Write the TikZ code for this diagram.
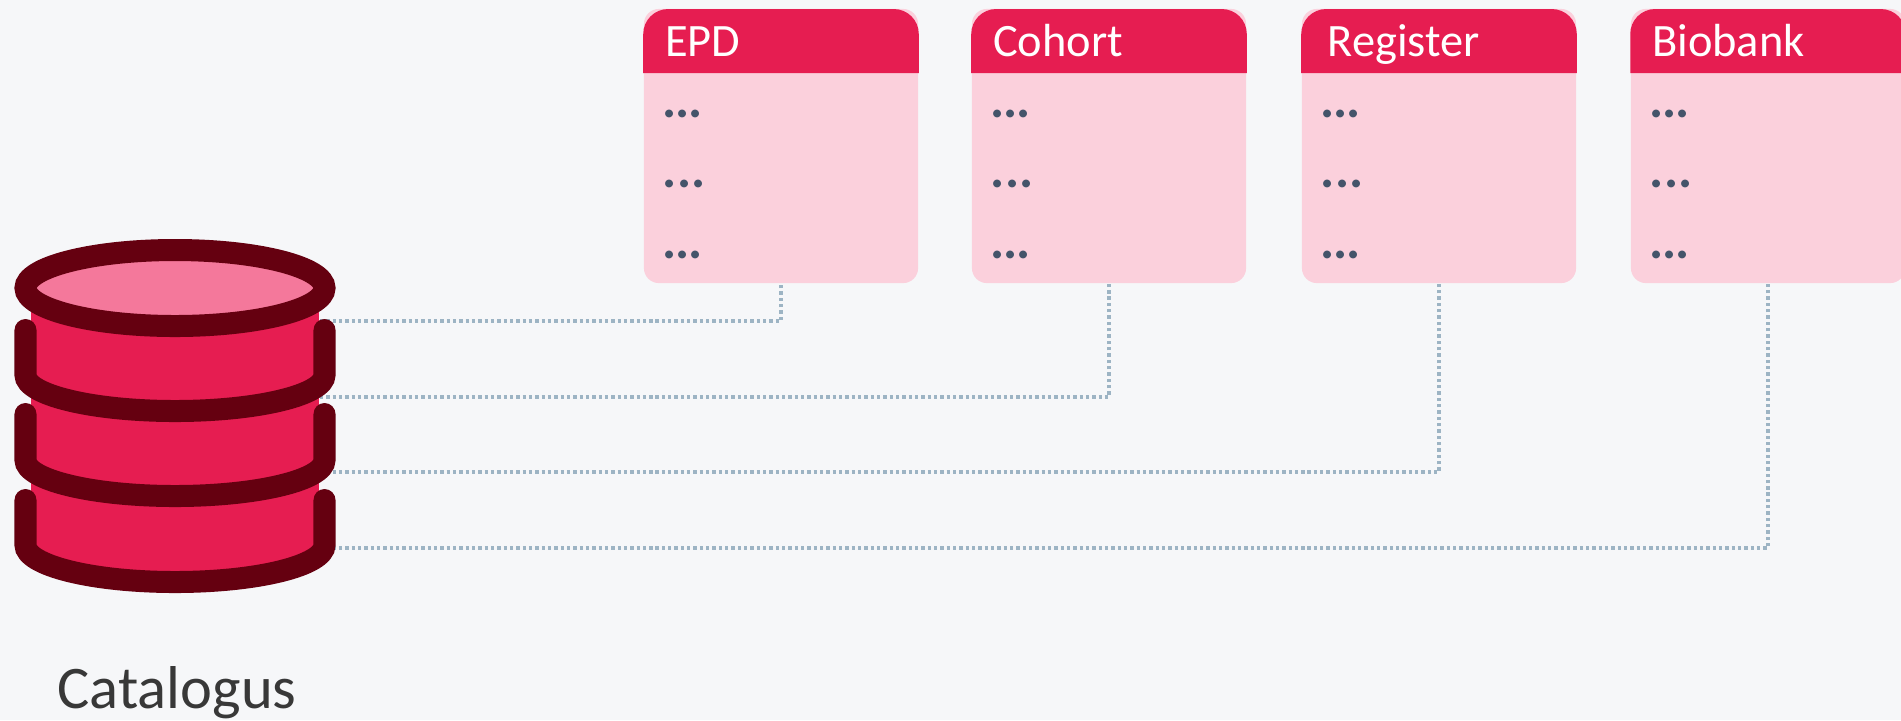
\documentclass[tikz,border=0pt]{standalone}
\usepackage{fontspec}
\setmainfont{Carlito}
\definecolor{pagebg}{HTML}{F6F7F9}
\definecolor{crimson}{HTML}{E61D51}
\definecolor{palepink}{HTML}{FBD0DC}
\definecolor{lidpink}{HTML}{F4789B}
\definecolor{darkred}{HTML}{650010}
\definecolor{slate}{HTML}{44546A}
\definecolor{linkblue}{HTML}{9DB4C4}
\newcommand{\rowdots}[1]{.\kern#1.\kern#1.}
\tikzset{
	cardbody/.style={fill=palepink, rounded corners=0.15cm, minimum width=2.74cm, minimum height=2.74cm, inner sep=0pt},
	cardtitle/.style={white, anchor=base west, inner sep=0pt, font=\fontsize{13.2}{13.2}\selectfont},
	carddots/.style={slate, anchor=base west, inner sep=0pt, font=\fontsize{15}{15}\selectfont\bfseries},
	link/.style={draw=linkblue, line width=0.95pt, dash pattern=on 0.95pt off 0.85pt},
	rim/.style={draw=darkred, line width=0.22cm, line cap=round},
}
\begin{document}
\begin{tikzpicture}[x=0.01cm, y=-0.01cm]
	\useasboundingbox[fill=pagebg] (0,0) rectangle (1901,720);
	% cards
	\foreach \name/\title/\cx/\tx in {epd/EPD/781/-116.5, cohort/Cohort/1109/-116.5, register/Register/1439/-112, biobank/Biobank/1768/-116.5} {
		\node[cardbody] (\name) at (\cx,146) {};
		\fill[crimson] (\name.west |- 0,73) [rounded corners=0.25cm] -- (\name.west |- 0,9) -- (\name.east |- 0,9) [sharp corners] -- (\name.east |- 0,73) -- cycle;
		\node[cardtitle] (\name title) at (\cx+\tx,56) {\title};
		\node[carddots] (\name dots1) at (\cx-119,117) {\rowdots{-0.4pt}};
		\node[carddots] (\name dots2) at (\cx-119,187.5) {\rowdots{0.1pt}};
		\node[carddots] (\name dots3) at (\cx-119,258) {\rowdots{-0.4pt}};
	}
	% links
	\coordinate (tier1) at (320,321);
	\coordinate (tier2) at (320,397);
	\coordinate (tier3) at (320,472);
	\coordinate (tier4) at (320,548);
	\draw[link] (tier1) -| (epd.south);
	\draw[link] (tier2) -| (cohort.south);
	\draw[link] (tier3) -| (register.south);
	\draw[link] (tier4) -| (biobank.south);
	% database
	\fill[crimson] (31,288) rectangle (319,560);
	\fill[crimson] (175,560) ellipse (144 and 25);
	\draw[rim] (25.5,500) -- (25.5,545) arc[start angle=180, end angle=360, x radius=149.5, y radius=-37] -- (324.5,500);
	\draw[rim] (25.5,414) -- (25.5,460) arc[start angle=180, end angle=360, x radius=149.5, y radius=-36] -- (324.5,414);
	\draw[rim] (25.5,330) -- (25.5,375) arc[start angle=180, end angle=360, x radius=149.5, y radius=-36] -- (324.5,330);
	\draw[rim, fill=lidpink] (175,288) ellipse (149.5 and 38);
	\node[anchor=base west, inner sep=0pt, text=black!78, font=\fontsize{17.2}{17.2}\selectfont] (catalogus) at (57,708) {Catalogus};
\end{tikzpicture}
\end{document}
